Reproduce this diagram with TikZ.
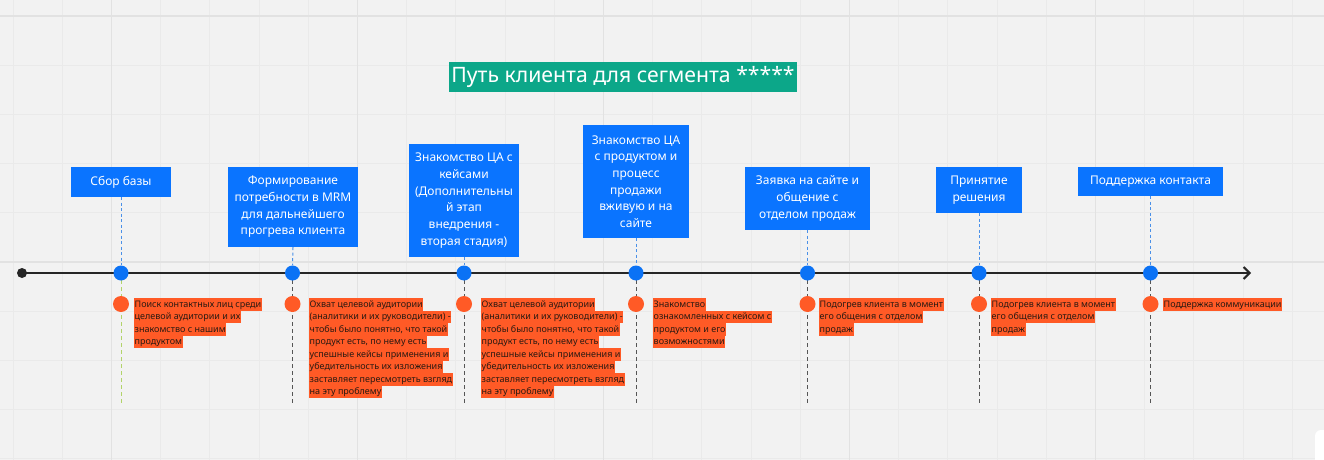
\documentclass[tikz,border=0pt]{standalone}
\usepackage{fontspec}
\setmainfont{Noto Sans}
\usetikzlibrary{arrows.meta}
\definecolor{bg}{HTML}{F2F2F2}
\definecolor{gridc}{HTML}{EAEAEA}
\definecolor{gridd}{HTML}{E2E2E2}
\definecolor{boxblue}{HTML}{0A74FF}
\definecolor{dotblue}{HTML}{0B72F5}
\definecolor{dashblue}{HTML}{4A90E8}
\definecolor{teal}{HTML}{0CA789}
\definecolor{lbl}{HTML}{FF5A26}
\definecolor{lbltext}{HTML}{2A1A12}
\definecolor{axis}{HTML}{262626}
\definecolor{gdash}{HTML}{555555}
\definecolor{greendash}{HTML}{B2D36A}
\newcommand\hlline[1]{\colorbox{lbl}{\rule[-3pt]{0pt}{11.5pt}#1}}
\newcommand\notefont{\fontsize{9}{12.5}\selectfont\setlength{\fboxsep}{0.5pt}\setlength{\lineskiplimit}{-20pt}\setlength{\lineskip}{0pt}}
\tikzset{
  stagebox/.style={fill=boxblue, text=white, align=center, inner sep=2pt,
    font=\fontsize{12}{16.7}\selectfont},
  bluedot/.style={circle, fill=dotblue, minimum size=15pt, inner sep=0pt},
  orangedot/.style={circle, fill=lbl, minimum size=16pt, inner sep=0pt},
  note/.style={anchor=north west, inner sep=0pt, align=left, text=lbltext, font=\notefont},
  updash/.style={dashblue, line width=1pt, dash pattern=on 3pt off 2.5pt},
  downdash/.style={gdash, line width=1pt, dash pattern=on 4pt off 3pt},
}
\begin{document}
\begin{tikzpicture}[x=1pt,y=-1pt]
\useasboundingbox (0,0) rectangle (1324,460);
\fill[bg] (0,0) rectangle (1324,460);
\foreach \k in {0,...,26} {
  \pgfmathsetmacro\gx{13+49.2*\k}
  \draw[gridc, line width=1pt] (\gx,0) -- (\gx,460);
}
\foreach \k in {0,...,9} {
  \pgfmathsetmacro\gy{16+49.2*\k}
  \draw[gridc, line width=1pt] (0,\gy) -- (1324,\gy);
}
\foreach \k in {2,7,12,17,22} {
  \pgfmathsetmacro\gx{13+49.2*\k}
  \draw[gridd, line width=1.2pt] (\gx,0) -- (\gx,460);
}
\foreach \k in {0,5} {
  \pgfmathsetmacro\gy{16+49.2*\k}
  \draw[gridd, line width=1.2pt] (0,\gy) -- (1324,\gy);
}
\fill[white, rounded corners=6pt] (1315,430) rectangle (1340,470);

% title
\node[fill=teal, text=white, minimum width=348pt, minimum height=30pt, inner sep=0pt,
  font=\fontsize{21.2}{24}\selectfont] (title) at (623,77) {Путь клиента для сегмента *****};

% timeline
\coordinate (tstart) at (22,273);
\coordinate (tend) at (1251,273);
\draw[axis, line width=2.4pt, -{Straight Barb[length=6pt,width=12pt,line width=2pt]}] (tstart) -- (tend);
\node[circle, fill=axis, minimum size=10pt, inner sep=0pt] (sdot) at (tstart) {};

% stage boxes
\node[stagebox, minimum width=100pt, minimum height=30pt] (b1) at (121,182) {Сбор базы};
\node[stagebox, minimum width=130pt, minimum height=80pt] (b2) at (293,207) {Формирование\\потребности в MRM\\для дальнейшего\\прогрева клиента};
\node[stagebox, minimum width=110pt, minimum height=113pt] (b3) at (464,200.5) {Знакомство ЦА с\\кейсами\\(Дополнительны\\й этап\\внедрения -\\вторая стадия)};
\node[stagebox, minimum width=106pt, minimum height=113pt] (b4) at (636,181.5) {Знакомство ЦА\\с продуктом и\\процесс\\продажи\\вживую и на\\сайте};
\node[stagebox, minimum width=125pt, minimum height=63pt] (b5) at (807.5,198.5) {Заявка на сайте и\\общение с\\отделом продаж};
\node[stagebox, minimum width=86pt, minimum height=46pt] (b6) at (979,190) {Принятие\\решения};
\node[stagebox, minimum width=145pt, minimum height=29pt] (b7) at (1150.5,181.5) {Поддержка контакта};

% dots and bottoms
\foreach \i/\x in {1/121,2/292.5,3/464,4/636,5/807.5,6/979,7/1150.5} {
  \coordinate (e\i) at (\x,403);
}
\draw[greendash, line width=1pt, dash pattern=on 4pt off 3pt] (121,273) -- (e1);
\foreach \i/\x in {2/292.5,3/464,4/636,5/807.5,6/979,7/1150.5} {
  \draw[downdash] (\x,273) -- (e\i);
}
\foreach \i/\x in {1/121,2/292.5,3/464,4/636,5/807.5,6/979,7/1150.5} {
  \node[bluedot] (d\i) at (\x,273) {};
  \draw[updash] (b\i.south) -- (d\i.north);
  \node[orangedot] (o\i) at (\x,304) {};
}

% notes
\node[note] (n1) at (134,298) {\hlline{Поиск контактных лиц среди}\\\hlline{целевой аудитории и их}\\\hlline{знакомство с нашим}\\\hlline{продуктом}};
\node[note] (n2) at (309,298) {\hlline{Охват целевой аудитории}\\\hlline{(аналитики и их руководители) -}\\\hlline{чтобы было понятно, что такой}\\\hlline{продукт есть, по нему есть}\\\hlline{успешные кейсы применения и}\\\hlline{убедительность их изложения}\\\hlline{заставляет пересмотреть взгляд}\\\hlline{на эту проблему}};
\node[note] (n3) at (481,298) {\hlline{Охват целевой аудитории}\\\hlline{(аналитики и их руководители) -}\\\hlline{чтобы было понятно, что такой}\\\hlline{продукт есть, по нему есть}\\\hlline{успешные кейсы применения и}\\\hlline{убедительность их изложения}\\\hlline{заставляет пересмотреть взгляд}\\\hlline{на эту проблему}};
\node[note] (n4) at (653,298) {\hlline{Знакомство}\\\hlline{ознакомленных с кейсом с}\\\hlline{продуктом и его}\\\hlline{возможностями}};
\node[note] (n5) at (819,298) {\hlline{Подогрев клиента в момент}\\\hlline{его общения с отделом}\\\hlline{продаж}};
\node[note] (n6) at (991,298) {\hlline{Подогрев клиента в момент}\\\hlline{его общения с отделом}\\\hlline{продаж}};
\node[note] (n7) at (1163,298) {\hlline{Поддержка коммуникации}};
\end{tikzpicture}
\end{document}
